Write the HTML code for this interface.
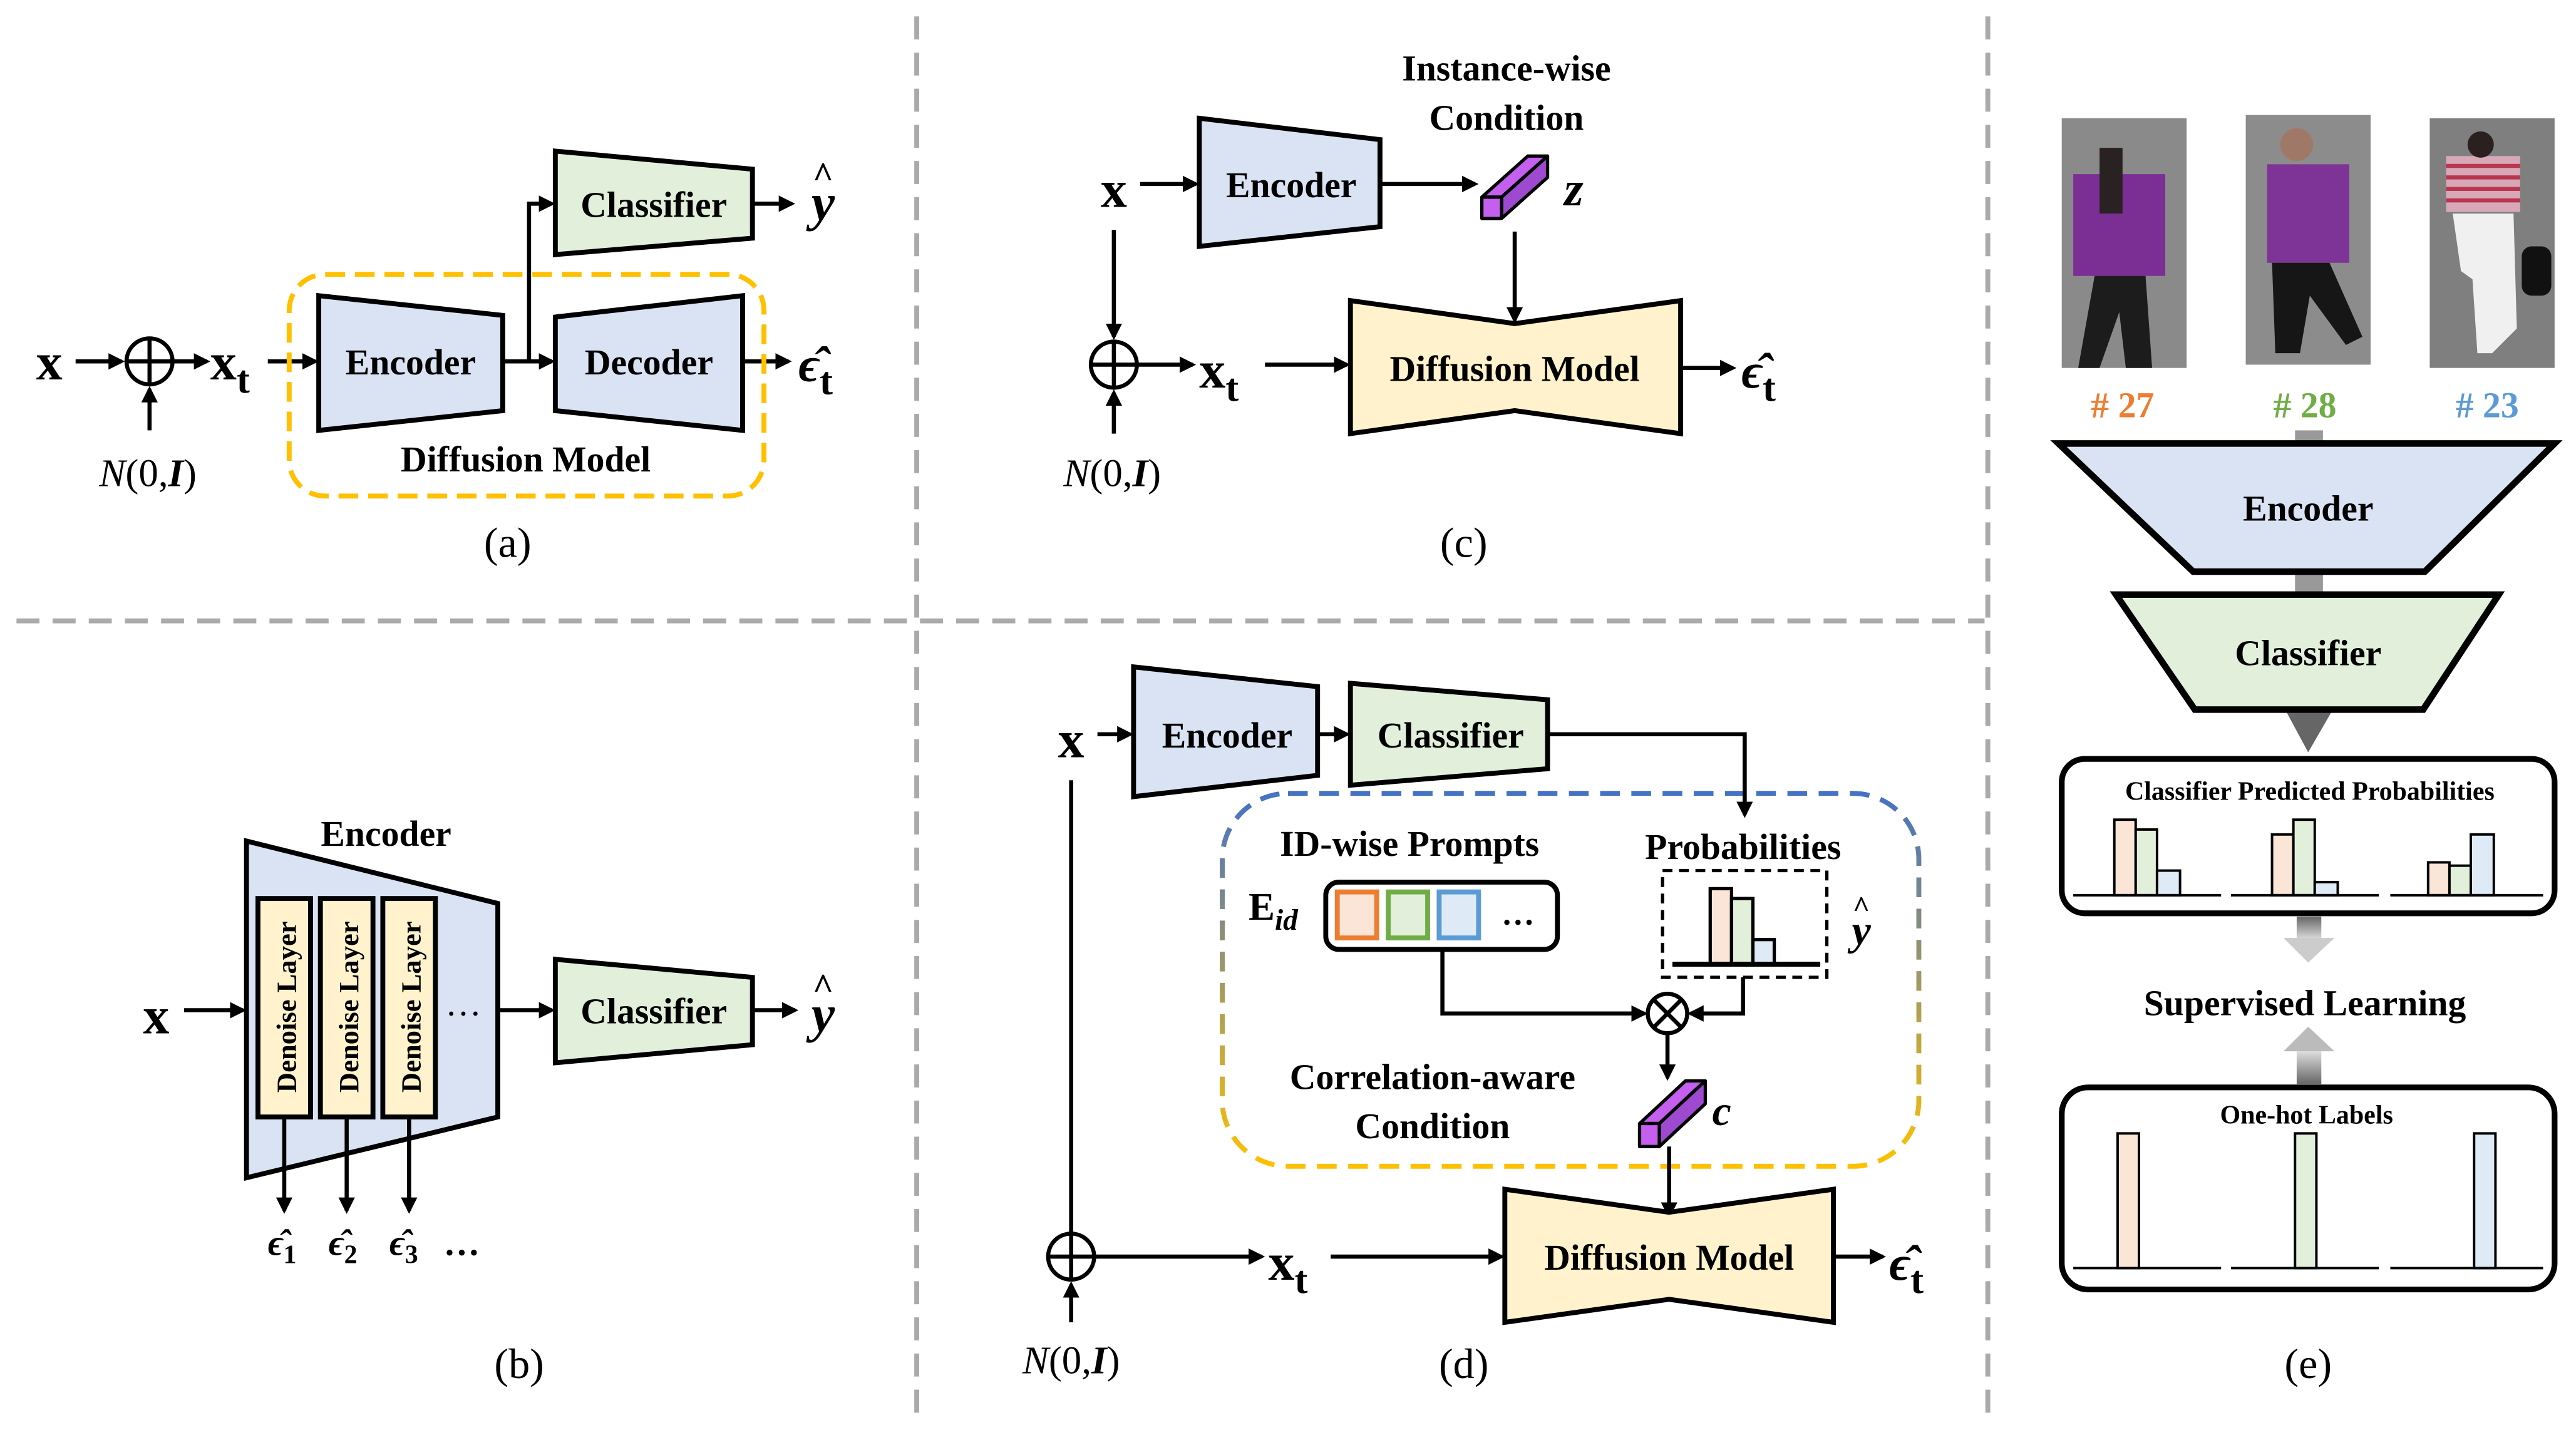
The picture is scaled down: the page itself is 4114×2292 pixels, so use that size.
<!DOCTYPE html>
<html><head><meta charset="utf-8"><style>
html,body{margin:0;padding:0;background:#fff}
svg{display:block}
</style></head><body>
<svg width="4114" height="2292" viewBox="0 0 1568 873.6" xmlns="http://www.w3.org/2000/svg" font-family="'Liberation Serif','DejaVu Serif',serif" font-weight="bold">
<defs>
<marker id="a" markerWidth="10" markerHeight="10" refX="8" refY="5" orient="auto" markerUnits="userSpaceOnUse"><path d="M0,0 L10,5 L0,10 Z" fill="#000"/></marker>
<linearGradient id="g" x1="0" y1="0" x2="0" y2="1"><stop offset="0" stop-color="#4472c4"/><stop offset="1" stop-color="#ffc000"/></linearGradient>
<linearGradient id="ga" x1="0" y1="0" x2="0" y2="1"><stop offset="0" stop-color="#666"/><stop offset="1" stop-color="#ddd"/></linearGradient>
<linearGradient id="gb" x1="0" y1="1" x2="0" y2="0"><stop offset="0" stop-color="#666"/><stop offset="1" stop-color="#ddd"/></linearGradient>
</defs>
<g stroke="#aaa" stroke-width="3" stroke-dasharray="14,8" fill="none">
<line x1="558" y1="10" x2="558" y2="862"/><line x1="1210" y1="10" x2="1210" y2="862"/><line x1="10" y1="378" x2="1208" y2="378"/>
</g>
<g stroke="#000" stroke-width="2.5" fill="none">
<!-- (a) -->
<line x1="46" y1="220" x2="74" y2="220" marker-end="url(#a)"/>
<circle cx="91" cy="220" r="14"/><line x1="77" y1="220" x2="105" y2="220"/><line x1="91" y1="206" x2="91" y2="234"/>
<line x1="91" y1="262" x2="91" y2="237" marker-end="url(#a)"/>
<line x1="105" y1="220" x2="126" y2="220" marker-end="url(#a)"/>
<line x1="163" y1="220" x2="192" y2="220" marker-end="url(#a)"/>
<line x1="306" y1="220" x2="336" y2="220" marker-end="url(#a)"/>
<polyline points="322,220 322,124 336,124" marker-end="url(#a)"/>
<line x1="458" y1="124" x2="482" y2="124" marker-end="url(#a)"/>
<line x1="452" y1="220" x2="480" y2="220" marker-end="url(#a)"/>
</g>
<polygon points="194,180 306,192 306,250 194,262" fill="#dae3f3" stroke="#000" stroke-width="3"/>
<polygon points="338,193 452,180 452,262 338,250" fill="#dae3f3" stroke="#000" stroke-width="3"/>
<polygon points="338,92 458,103 458,145 338,155" fill="#e2efda" stroke="#000" stroke-width="3"/>
<rect x="176" y="167" width="289" height="135" rx="22" fill="none" stroke="#ffc000" stroke-width="3" stroke-dasharray="12,6"/>
<text x="30" y="231" font-size="32" text-anchor="middle">x</text>
<text x="128" y="231" font-size="32">x<tspan font-size="24" dy="8">t</tspan></text>
<text x="250" y="228" font-size="22" text-anchor="middle">Encoder</text>
<text x="395" y="228" font-size="22" text-anchor="middle">Decoder</text>
<text x="398" y="132" font-size="22" text-anchor="middle">Classifier</text>
<text x="501" y="134" font-size="32" font-style="italic" text-anchor="middle">y</text><text x="501" y="114" font-size="22" text-anchor="middle">^</text>
<text x="486" y="232" font-size="30" font-style="italic">ϵ̂<tspan font-style="normal" font-size="24" dy="8">t</tspan></text>
<text x="320" y="287" font-size="22" text-anchor="middle">Diffusion Model</text>
<text x="90" y="296" font-size="24" font-weight="normal" text-anchor="middle"><tspan font-style="italic">N</tspan>(0,<tspan font-weight="bold" font-style="italic">I</tspan>)</text>
<text x="309" y="339" font-size="26" font-weight="normal" text-anchor="middle">(a)</text>
<!-- (b) -->
<polygon points="150,512 303,550 303,680 150,717" fill="#dae3f3" stroke="#000" stroke-width="3"/>
<g fill="#fff2cc" stroke="#000" stroke-width="3">
<rect x="157" y="547" width="32" height="133"/><rect x="195" y="547" width="32" height="133"/><rect x="233" y="547" width="32" height="133"/>
</g>
<g font-size="17">
<text transform="translate(180,613) rotate(-90)" text-anchor="middle">Denoise Layer</text>
<text transform="translate(218,613) rotate(-90)" text-anchor="middle">Denoise Layer</text>
<text transform="translate(256,613) rotate(-90)" text-anchor="middle">Denoise Layer</text>
</g>
<text x="235" y="515" font-size="22" text-anchor="middle">Encoder</text>
<text x="282" y="618" font-size="22" font-weight="normal" text-anchor="middle">…</text>
<polygon points="338,584 458,595 458,636 338,647" fill="#e2efda" stroke="#000" stroke-width="3"/>
<text x="398" y="623" font-size="22" text-anchor="middle">Classifier</text>
<text x="95" y="629" font-size="32" text-anchor="middle">x</text>
<text x="501" y="628" font-size="32" font-style="italic" text-anchor="middle">y</text><text x="501" y="608" font-size="22" text-anchor="middle">^</text>
<g stroke="#000" stroke-width="2.5">
<line x1="112" y1="615" x2="148" y2="615" marker-end="url(#a)"/>
<line x1="303" y1="615" x2="336" y2="615" marker-end="url(#a)"/>
<line x1="458" y1="615" x2="484" y2="615" marker-end="url(#a)"/>
<line x1="173" y1="680" x2="173" y2="737" marker-end="url(#a)"/>
<line x1="211" y1="680" x2="211" y2="737" marker-end="url(#a)"/>
<line x1="249" y1="680" x2="249" y2="737" marker-end="url(#a)"/>
</g>
<g font-size="22" font-style="italic">
<text x="163" y="764">ϵ̂<tspan font-style="normal" font-size="16" dy="5">1</tspan></text>
<text x="200" y="764">ϵ̂<tspan font-style="normal" font-size="16" dy="5">2</tspan></text>
<text x="237" y="764">ϵ̂<tspan font-style="normal" font-size="16" dy="5">3</tspan></text>
<text x="270" y="764" font-style="normal">…</text>
</g>
<text x="316" y="839" font-size="26" font-weight="normal" text-anchor="middle">(b)</text>
<!-- (c) -->
<text x="917" y="49" font-size="22" text-anchor="middle">Instance-wise</text>
<text x="917" y="79" font-size="22" text-anchor="middle">Condition</text>
<text x="678" y="126" font-size="32" text-anchor="middle">x</text>
<polygon points="730,72 840,85 840,138 730,150" fill="#dae3f3" stroke="#000" stroke-width="3"/>
<text x="786" y="120" font-size="22" text-anchor="middle">Encoder</text>
<g stroke="#000" stroke-width="2" stroke-linejoin="round"><polygon points="902,120 930,95 942,95 914,120" fill="#c55ff0"/><polygon points="914,120 942,95 942,108 914,133" fill="#9e4ad0"/><rect x="902" y="120" width="12" height="13" fill="#c55ff0"/></g>
<text x="958" y="125" font-size="30" font-style="italic" text-anchor="middle">z</text>
<polygon points="822,183 922,197 1023,183 1023,264 922,250 822,264" fill="#fff2cc" stroke="#000" stroke-width="3"/>
<text x="922" y="232" font-size="22" text-anchor="middle">Diffusion Model</text>
<g stroke="#000" stroke-width="2.5" fill="none">
<line x1="694" y1="112" x2="728" y2="112" marker-end="url(#a)"/>
<line x1="840" y1="112" x2="898" y2="112" marker-end="url(#a)"/>
<line x1="922" y1="141" x2="922" y2="195" marker-end="url(#a)"/>
<line x1="678" y1="140" x2="678" y2="205" marker-end="url(#a)"/>
<circle cx="678" cy="222" r="14"/><line x1="664" y1="222" x2="692" y2="222"/><line x1="678" y1="208" x2="678" y2="236"/>
<line x1="678" y1="264" x2="678" y2="239" marker-end="url(#a)"/>
<line x1="692" y1="222" x2="726" y2="222" marker-end="url(#a)"/>
<line x1="770" y1="222" x2="820" y2="222" marker-end="url(#a)"/>
<line x1="1023" y1="224" x2="1055" y2="224" marker-end="url(#a)"/>
</g>
<text x="730" y="236" font-size="32">x<tspan font-size="24" dy="8">t</tspan></text>
<text x="1060" y="236" font-size="30" font-style="italic">ϵ̂<tspan font-style="normal" font-size="24" dy="8">t</tspan></text>
<text x="677" y="296" font-size="24" font-weight="normal" text-anchor="middle"><tspan font-style="italic">N</tspan>(0,<tspan font-weight="bold" font-style="italic">I</tspan>)</text>
<text x="891" y="339" font-size="26" font-weight="normal" text-anchor="middle">(c)</text>
<!-- (d) -->
<text x="652" y="461" font-size="32" text-anchor="middle">x</text>
<polygon points="690,406 802,418 802,472 690,485" fill="#dae3f3" stroke="#000" stroke-width="3"/>
<text x="747" y="455" font-size="22" text-anchor="middle">Encoder</text>
<polygon points="822,416 942,426 942,468 822,478" fill="#e2efda" stroke="#000" stroke-width="3"/>
<text x="883" y="455" font-size="22" text-anchor="middle">Classifier</text>
<rect x="744" y="483" width="424" height="227" rx="40" fill="none" stroke="url(#g)" stroke-width="3" stroke-dasharray="12,7"/>
<text x="858" y="521" font-size="22" text-anchor="middle">ID-wise Prompts</text>
<text x="1061" y="523" font-size="22" text-anchor="middle">Probabilities</text>
<text x="760" y="560" font-size="24">E<tspan font-style="italic" font-size="18" dy="6">id</tspan></text>
<rect x="807" y="537" width="141" height="41" rx="8" fill="#fff" stroke="#000" stroke-width="3"/>
<rect x="814" y="543" width="24" height="28" fill="#fbe5d6" stroke="#ed7d31" stroke-width="3"/>
<rect x="845" y="543" width="24" height="28" fill="#e2efda" stroke="#70ad47" stroke-width="3"/>
<rect x="876" y="543" width="24" height="28" fill="#deebf7" stroke="#5b9bd5" stroke-width="3"/>
<text x="924" y="563" font-size="20" text-anchor="middle">…</text>
<rect x="1012" y="530" width="100" height="65" fill="none" stroke="#000" stroke-width="2" stroke-dasharray="6,4"/>
<g stroke="#000" stroke-width="2"><rect x="1041" y="541" width="13" height="46" fill="#fbe5d6"/><rect x="1054" y="547" width="13" height="40" fill="#e2efda"/><rect x="1067" y="572" width="13" height="15" fill="#deebf7"/><line x1="1018" y1="587" x2="1108" y2="587" stroke-width="3"/></g>
<text x="1133" y="575" font-size="26" font-style="italic" text-anchor="middle">y</text><text x="1133" y="558" font-size="18" text-anchor="middle">^</text>
<g stroke="#000" stroke-width="2.5" fill="none">
<polyline points="942,447 1062,447 1062,496" marker-end="url(#a)"/>
<polyline points="878,578 878,617 1001,617" marker-end="url(#a)"/>
<polyline points="1061,595 1061,617 1029,617" marker-end="url(#a)"/>
<circle cx="1015" cy="617" r="12"/><line x1="1007" y1="609" x2="1023" y2="625"/><line x1="1023" y1="609" x2="1007" y2="625"/>
<line x1="1015" y1="629" x2="1015" y2="656" marker-end="url(#a)"/>
<line x1="1016" y1="698" x2="1016" y2="740" marker-end="url(#a)"/>
<line x1="668" y1="447" x2="688" y2="447" marker-end="url(#a)"/>
<line x1="802" y1="447" x2="820" y2="447" marker-end="url(#a)"/>
<line x1="652" y1="475" x2="652" y2="751"/>
<circle cx="652" cy="765" r="14"/><line x1="638" y1="765" x2="666" y2="765"/><line x1="652" y1="751" x2="652" y2="779"/>
<line x1="652" y1="805" x2="652" y2="782" marker-end="url(#a)"/>
<line x1="666" y1="765" x2="768" y2="765" marker-end="url(#a)"/>
<line x1="810" y1="765" x2="914" y2="765" marker-end="url(#a)"/>
<line x1="1116" y1="765" x2="1146" y2="765" marker-end="url(#a)"/>
</g>
<g stroke="#000" stroke-width="2" stroke-linejoin="round"><polygon points="998,684 1026,658 1038,658 1010,684" fill="#c55ff0"/><polygon points="1010,684 1038,658 1038,672 1010,698" fill="#9e4ad0"/><rect x="998" y="684" width="12" height="14" fill="#c55ff0"/></g>
<text x="1048" y="685" font-size="26" font-style="italic" text-anchor="middle">c</text>
<text x="872" y="663" font-size="22" text-anchor="middle">Correlation-aware</text>
<text x="872" y="693" font-size="22" text-anchor="middle">Condition</text>
<polygon points="916,724 1016,738 1116,724 1116,805 1016,791 916,805" fill="#fff2cc" stroke="#000" stroke-width="3"/>
<text x="1016" y="773" font-size="22" text-anchor="middle">Diffusion Model</text>
<text x="772" y="779" font-size="32">x<tspan font-size="24" dy="8">t</tspan></text>
<text x="1150" y="779" font-size="30" font-style="italic">ϵ̂<tspan font-style="normal" font-size="24" dy="8">t</tspan></text>
<text x="652" y="836" font-size="24" font-weight="normal" text-anchor="middle"><tspan font-style="italic">N</tspan>(0,<tspan font-weight="bold" font-style="italic">I</tspan>)</text>
<text x="891" y="839" font-size="26" font-weight="normal" text-anchor="middle">(d)</text>
<!-- (e) -->
<g>
<rect x="1255" y="72" width="76" height="152" fill="#8a8a8a"/>
<rect x="1262" y="106" width="56" height="62" fill="#7b2f95"/>
<rect x="1278" y="90" width="14" height="40" fill="#2a2222"/>
<polygon points="1275,168 1306,168 1310,224 1294,224 1290,190 1278,224 1265,224" fill="#1c1c1c"/>
<rect x="1367" y="70" width="76" height="152" fill="#8c8c8c"/>
<rect x="1380" y="100" width="50" height="60" fill="#7d3496"/>
<circle cx="1398" cy="88" r="10" fill="#a07868"/>
<polygon points="1383,160 1418,160 1438,205 1428,210 1406,180 1400,215 1385,215" fill="#161616"/>
<rect x="1479" y="72" width="76" height="152" fill="#7f7f7f"/>
<rect x="1489" y="95" width="45" height="34" fill="#d9a8b8"/>
<g stroke="#b8364e" stroke-width="2.5"><line x1="1489" y1="101" x2="1534" y2="101"/><line x1="1489" y1="108" x2="1534" y2="108"/><line x1="1489" y1="115" x2="1534" y2="115"/><line x1="1489" y1="122" x2="1534" y2="122"/></g>
<circle cx="1510" cy="88" r="8" fill="#2a2020"/>
<polygon points="1493,130 1530,130 1532,200 1517,215 1508,215 1505,170 1498,165" fill="#f0f0f0"/>
<rect x="1535" y="150" width="18" height="30" rx="6" fill="#111"/>
</g>
<text x="1292" y="254" font-size="22" fill="#ed7d31" text-anchor="middle"># 27</text>
<text x="1403" y="254" font-size="22" fill="#70ad47" text-anchor="middle"># 28</text>
<text x="1514" y="254" font-size="22" fill="#5b9bd5" text-anchor="middle"># 23</text>
<rect x="1397" y="262" width="17" height="160" fill="#999"/>
<polygon points="1391,432 1420,432 1405,458" fill="#666"/>
<polygon points="1253,270 1555,270 1476,348 1335,348" fill="#dae3f3" stroke="#000" stroke-width="4"/>
<text x="1405" y="317" font-size="22" text-anchor="middle">Encoder</text>
<polygon points="1288,362 1521,362 1475,432 1336,432" fill="#e2efda" stroke="#000" stroke-width="4"/>
<text x="1405" y="405" font-size="22" text-anchor="middle">Classifier</text>
<rect x="1255" y="462" width="300" height="94" rx="14" fill="none" stroke="#000" stroke-width="3.5"/>
<text x="1406" y="487" font-size="16" text-anchor="middle">Classifier Predicted Probabilities</text>
<g stroke="#000" stroke-width="1.5">
<rect x="1287" y="499" width="13" height="46" fill="#fbe5d6"/><rect x="1300" y="505" width="13" height="40" fill="#e2efda"/><rect x="1313" y="530" width="14" height="15" fill="#deebf7"/>
<rect x="1383" y="508" width="13" height="37" fill="#fbe5d6"/><rect x="1396" y="499" width="13" height="46" fill="#e2efda"/><rect x="1409" y="537" width="14" height="8" fill="#deebf7"/>
<rect x="1478" y="525" width="13" height="20" fill="#fbe5d6"/><rect x="1491" y="527" width="13" height="18" fill="#e2efda"/><rect x="1504" y="508" width="14" height="37" fill="#deebf7"/>
<line x1="1262" y1="545" x2="1352" y2="545"/><line x1="1358" y1="545" x2="1448" y2="545"/><line x1="1455" y1="545" x2="1548" y2="545"/>
</g>
<rect x="1398" y="558" width="15" height="14" fill="url(#ga)"/><polygon points="1390,571 1421,571 1405,586" fill="#ccc"/>
<text x="1403" y="618" font-size="22" text-anchor="middle">Supervised Learning</text>
<polygon points="1390,640 1421,640 1405,625" fill="#bbb"/><rect x="1398" y="640" width="15" height="20" fill="url(#gb)"/>
<rect x="1255" y="662" width="300" height="123" rx="16" fill="none" stroke="#000" stroke-width="3.5"/>
<text x="1404" y="684" font-size="16" text-anchor="middle">One-hot Labels</text>
<g stroke="#000" stroke-width="1.5">
<rect x="1289" y="690" width="13" height="82" fill="#fbe5d6"/><rect x="1397" y="690" width="13" height="82" fill="#e2efda"/><rect x="1506" y="690" width="13" height="82" fill="#deebf7"/>
<line x1="1262" y1="772" x2="1352" y2="772"/><line x1="1358" y1="772" x2="1448" y2="772"/><line x1="1455" y1="772" x2="1548" y2="772"/>
</g>
<text x="1405" y="839" font-size="26" font-weight="normal" text-anchor="middle">(e)</text>
</svg>
</body></html>
